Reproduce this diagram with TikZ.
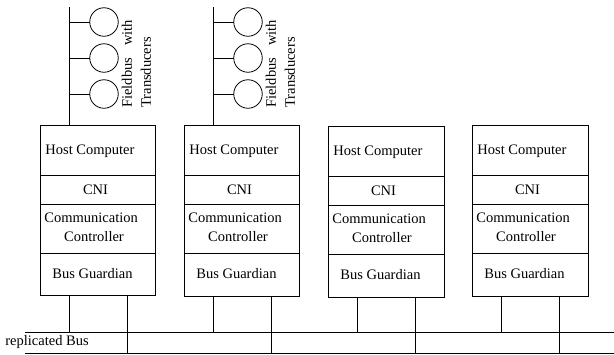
\documentclass[tikz,border=0pt]{standalone}
\usepackage{fontspec}
\setmainfont{Liberation Serif}
\begin{document}
\begin{tikzpicture}[x=1pt,y=-1pt,
  line width=0.8pt,
  sec/.style={draw, rectangle, inner sep=0pt, outer sep=0pt, anchor=north west},
  lbl/.style={inner sep=0pt, font=\fontsize{14.5}{19}\selectfont},
  sensor/.style={draw, circle, inner sep=0pt, outer sep=0pt, minimum size=28.5pt},
  wire/.style={draw, line width=0.8pt}]
\useasboundingbox (0,0) rectangle (614,354);

% one node: #1 id, #2 left, #3 right, #4 top, #5..#7 dividers, #8 bottom
\newcommand\ttpnode[8]{%
  \node[sec, minimum width={#3-#2}, minimum height={#5-#4}] (host#1) at (#2,#4) {};
  \node[sec, minimum width={#3-#2}, minimum height={#6-#5}] (cni#1) at (#2,#5) {};
  \node[sec, minimum width={#3-#2}, minimum height={#7-#6}] (cc#1) at (#2,#6) {};
  \node[sec, minimum width={#3-#2}, minimum height={#8-#7}] (bg#1) at (#2,#7) {};
  \node[lbl, anchor=west] (hosttxt#1) at (#2+5,#4+26) {Host Computer};
  \node[lbl] (cnitxt#1) at (#2+55.5,#5/2+#6/2) {CNI};
  \node[lbl, anchor=west] (cctxta#1) at (#2+4,#6+14) {Communication};
  \node[lbl] (cctxtb#1) at (#2+54,#6+33) {Controller};
  \node[lbl, anchor=west] (bgtxt#1) at (#2+12,#7+21) {Bus Guardian};
}

% fieldbus with three transducers above a node: #1 id, #2 left
\newcommand\fieldbus[2]{%
  \coordinate (fbtop#1) at (#2+29,7);
  \draw (fbtop#1) -- (fbtop#1 |- host#1.north);
  \node[sensor] (tra#1) at (#2+64,22) {};
  \node[sensor] (trb#1) at (#2+64,58) {};
  \node[sensor] (trc#1) at (#2+64,94) {};
  \draw (fbtop#1 |- tra#1.west) -- (tra#1.west);
  \draw (fbtop#1 |- trb#1.west) -- (trb#1.west);
  \draw (fbtop#1 |- trc#1.west) -- (trc#1.west);
  \node[lbl, rotate=90, anchor=west, align=left] (fbtxt#1) at (#2+96.5,108)
    {Fieldbus\hspace{12pt}with\\Transducers};
}

\ttpnode{1}{40}{155}{125}{175}{204}{253}{295}
\ttpnode{2}{184}{299}{125}{175}{204}{253}{296}
\ttpnode{3}{328}{444}{126}{176}{205}{254}{297}
\ttpnode{4}{472}{588}{125}{175}{204}{253}{296}

\fieldbus{1}{40}
\fieldbus{2}{184}

% replicated bus
\coordinate (busAw) at (25,332);
\coordinate (busAe) at (614,332);
\coordinate (busBw) at (25,353);
\coordinate (busBe) at (614,353);
\draw (busAw) -- (busAe);
\draw (busBw) -- (busBe);
\node[lbl, anchor=west] (bustxt) at (5,342) {replicated Bus};

% connections of every bus guardian to both bus channels
\foreach \i in {1,2,3,4}{
  \draw ([xshift=29pt]bg\i.south west) -- ([xshift=29pt]bg\i.south west |- busAw);
  \draw ([xshift=87pt]bg\i.south west) -- ([xshift=87pt]bg\i.south west |- busBw);
}
\end{tikzpicture}
\end{document}
